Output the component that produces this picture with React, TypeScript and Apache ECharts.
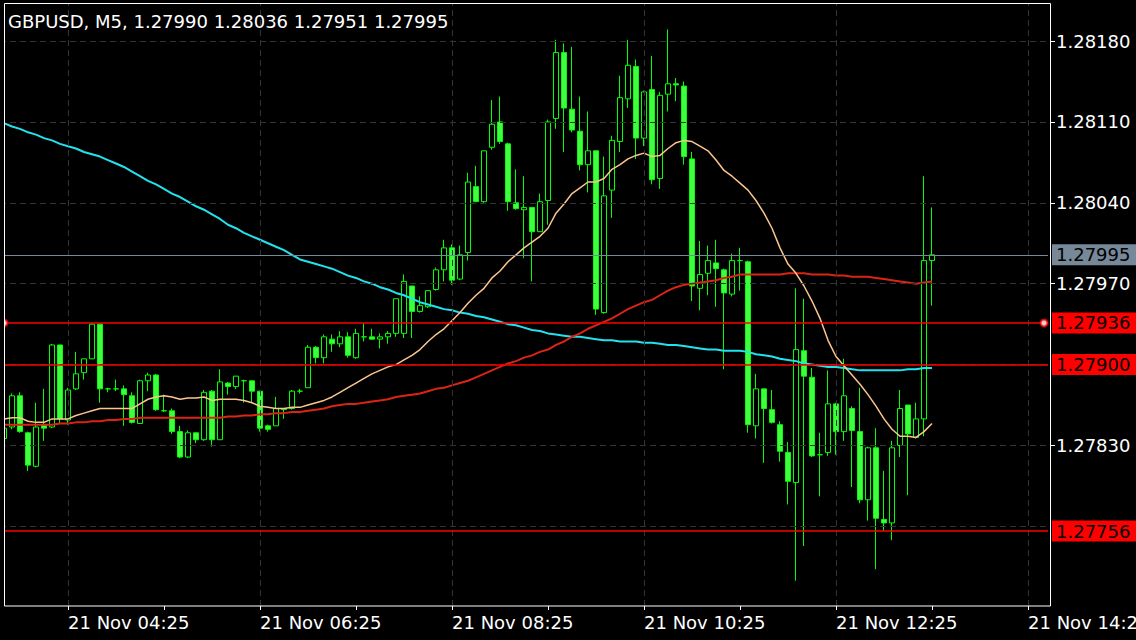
import React, { useEffect, useRef } from 'react';
import * as echarts from 'echarts';

const SYMBOL = 'GBPUSD';
const TIMEFRAME = 'M5';
const DAY = '21 Nov';
const FIRST_BAR = '03:45';
const BAR_MINUTES = 5;
const SLOT_COUNT = 131;
const FONT = '"DejaVu Sans", sans-serif';

const opens = [
  1.27836, 1.27846, 1.27873, 1.27841, 1.27812, 1.27848, 1.27846, 1.27917, 1.27852, 1.27879,
  1.27893, 1.27905, 1.27935, 1.27879, 1.27879, 1.27879, 1.27873, 1.27849, 1.27886, 1.27891,
  1.27860, 1.27860, 1.27842, 1.27820, 1.27841, 1.27835, 1.27877, 1.27835, 1.27884, 1.27881,
  1.27886, 1.27886, 1.27877, 1.27847, 1.27847, 1.27861, 1.27862, 1.27877, 1.27880, 1.27915,
  1.27906, 1.27922, 1.27918, 1.27924, 1.27906, 1.27924, 1.27924, 1.27922, 1.27924, 1.27927,
  1.27927, 1.27968, 1.27946, 1.27950, 1.27965, 1.27982, 1.28001, 1.27974, 1.27997, 1.28054,
  1.28041, 1.28088, 1.28110, 1.28091, 1.28040, 1.28034, 1.28036, 1.28015, 1.28042, 1.28113,
  1.28170, 1.28121, 1.28102, 1.28073, 1.28085, 1.27945, 1.28051, 1.28093, 1.28130, 1.28158,
  1.28096, 1.28138, 1.28061, 1.28134, 1.28143, 1.28141, 1.28078, 1.27966, 1.27979, 1.27988,
  1.27982, 1.27961, 1.27990, 1.27989, 1.27847, 1.27879, 1.27861, 1.27848, 1.27824, 1.27798,
  1.27912, 1.27889, 1.27822, 1.27824, 1.27866, 1.27842, 1.27862, 1.27842, 1.27783, 1.27828,
  1.27766, 1.27763, 1.27830, 1.27865, 1.27837, 1.27853, 1.27990,
];

const highs = [
  1.27847, 1.27875, 1.27876, 1.27842, 1.27867, 1.27879, 1.27918, 1.27917, 1.27880, 1.27911,
  1.27905, 1.27936, 1.27936, 1.27880, 1.27887, 1.27882, 1.27876, 1.27887, 1.27893, 1.27892,
  1.27874, 1.27862, 1.27847, 1.27843, 1.27841, 1.27878, 1.27878, 1.27896, 1.27885, 1.27890,
  1.27887, 1.27886, 1.27877, 1.27848, 1.27872, 1.27862, 1.27878, 1.27879, 1.27917, 1.27916,
  1.27926, 1.27926, 1.27929, 1.27928, 1.27931, 1.27936, 1.27931, 1.27927, 1.27929, 1.27957,
  1.27978, 1.27968, 1.27959, 1.27964, 1.27984, 1.28008, 1.28004, 1.28003, 1.28066, 1.28072,
  1.28085, 1.28129, 1.28132, 1.28092, 1.28069, 1.28063, 1.28036, 1.28048, 1.28112, 1.28181,
  1.28178, 1.28175, 1.28132, 1.28119, 1.28085, 1.28080, 1.28098, 1.28150, 1.28181, 1.28164,
  1.28137, 1.28167, 1.28136, 1.28190, 1.28148, 1.28145, 1.28084, 1.28007, 1.28003, 1.28008,
  1.27983, 1.27996, 1.28001, 1.27990, 1.27892, 1.27879, 1.27878, 1.27851, 1.27833, 1.27966,
  1.27957, 1.27897, 1.27841, 1.27895, 1.27867, 1.27905, 1.27864, 1.27880, 1.27829, 1.27845,
  1.27808, 1.27834, 1.27878, 1.27865, 1.27867, 1.28063, 1.28036,
];

const lows = [
  1.27835, 1.27844, 1.27841, 1.27808, 1.27811, 1.27834, 1.27845, 1.27849, 1.27848, 1.27878,
  1.27887, 1.27905, 1.27867, 1.27876, 1.27877, 1.27847, 1.27849, 1.27849, 1.27877, 1.27860,
  1.27859, 1.27840, 1.27819, 1.27819, 1.27832, 1.27834, 1.27829, 1.27835, 1.27874, 1.27879,
  1.27867, 1.27867, 1.27842, 1.27842, 1.27847, 1.27853, 1.27861, 1.27875, 1.27880, 1.27901,
  1.27901, 1.27911, 1.27915, 1.27906, 1.27905, 1.27920, 1.27922, 1.27914, 1.27918, 1.27924,
  1.27923, 1.27923, 1.27945, 1.27949, 1.27964, 1.27972, 1.27969, 1.27973, 1.27990, 1.28041,
  1.28040, 1.28086, 1.28091, 1.28033, 1.28034, 1.27992, 1.27972, 1.28015, 1.28021, 1.28104,
  1.28084, 1.28101, 1.28068, 1.28049, 1.27943, 1.27944, 1.28027, 1.28084, 1.28122, 1.28078,
  1.28089, 1.28056, 1.28052, 1.28119, 1.28128, 1.28073, 1.27955, 1.27947, 1.27960, 1.27950,
  1.27896, 1.27959, 1.27964, 1.27841, 1.27836, 1.27815, 1.27849, 1.27816, 1.27779, 1.27713,
  1.27743, 1.27820, 1.27786, 1.27821, 1.27822, 1.27834, 1.27794, 1.27780, 1.27765, 1.27723,
  1.27756, 1.27748, 1.27820, 1.27787, 1.27836, 1.27838, 1.27951,
];

const closes = [
  1.27845, 1.27873, 1.27842, 1.27813, 1.27846, 1.27845, 1.27917, 1.27853, 1.27878, 1.27892,
  1.27905, 1.27935, 1.27879, 1.27879, 1.27879, 1.27874, 1.27850, 1.27886, 1.27891, 1.27861,
  1.27860, 1.27842, 1.27820, 1.27841, 1.27835, 1.27876, 1.27835, 1.27885, 1.27881, 1.27890,
  1.27886, 1.27877, 1.27845, 1.27844, 1.27862, 1.27862, 1.27877, 1.27877, 1.27915, 1.27906,
  1.27924, 1.27918, 1.27924, 1.27908, 1.27927, 1.27924, 1.27922, 1.27924, 1.27927, 1.27957,
  1.27972, 1.27946, 1.27951, 1.27964, 1.27982, 1.28001, 1.27973, 1.27995, 1.28058, 1.28041,
  1.28085, 1.28108, 1.28093, 1.28041, 1.28035, 1.28036, 1.28015, 1.28041, 1.28110, 1.28170,
  1.28122, 1.28103, 1.28073, 1.28085, 1.27948, 1.28046, 1.28094, 1.28131, 1.28159, 1.28096,
  1.28136, 1.28060, 1.28133, 1.28143, 1.28142, 1.28080, 1.27968, 1.27978, 1.27990, 1.27983,
  1.27962, 1.27990, 1.27990, 1.27848, 1.27879, 1.27862, 1.27850, 1.27825, 1.27799, 1.27913,
  1.27890, 1.27821, 1.27822, 1.27866, 1.27842, 1.27873, 1.27843, 1.27783, 1.27828, 1.27767,
  1.27763, 1.27828, 1.27862, 1.27840, 1.27853, 1.27990, 1.27995,
];

// slow moving average (cyan)
const maSlow = [
  1.28109, 1.28106, 1.28104, 1.28101, 1.28099, 1.28096, 1.28094, 1.28091, 1.28089, 1.28087,
  1.28084, 1.28082, 1.28080, 1.28077, 1.28074, 1.28071, 1.28067, 1.28063, 1.28059, 1.28056,
  1.28052, 1.28048, 1.28045, 1.28041, 1.28037, 1.28034, 1.28030, 1.28026, 1.28021, 1.28018,
  1.28014, 1.28011, 1.28008, 1.28005, 1.28002, 1.27999, 1.27995, 1.27991, 1.27989, 1.27987,
  1.27985, 1.27983, 1.27980, 1.27977, 1.27975, 1.27972, 1.27970, 1.27967, 1.27965, 1.27962,
  1.27960, 1.27957, 1.27954, 1.27952, 1.27950, 1.27948, 1.27947, 1.27945, 1.27944, 1.27942,
  1.27941, 1.27939, 1.27937, 1.27935, 1.27934, 1.27932, 1.27930, 1.27929, 1.27927, 1.27926,
  1.27925, 1.27924, 1.27924, 1.27923, 1.27922, 1.27921, 1.27921, 1.27920, 1.27920, 1.27920,
  1.27919, 1.27919, 1.27918, 1.27917, 1.27917, 1.27916, 1.27915, 1.27914, 1.27913, 1.27913,
  1.27912, 1.27912, 1.27912, 1.27911, 1.27909, 1.27908, 1.27907, 1.27905, 1.27904, 1.27903,
  1.27901, 1.27900, 1.27899, 1.27898, 1.27898, 1.27897, 1.27896, 1.27895, 1.27895, 1.27895,
  1.27895, 1.27895, 1.27895, 1.27896, 1.27896, 1.27897, 1.27897,
];

// middle moving average (red)
const maMid = [
  1.27848, 1.27848, 1.27848, 1.27848, 1.27848, 1.27848, 1.27848, 1.27849, 1.27849, 1.27850,
  1.27850, 1.27851, 1.27851, 1.27852, 1.27852, 1.27853, 1.27853, 1.27854, 1.27854, 1.27854,
  1.27854, 1.27854, 1.27854, 1.27854, 1.27854, 1.27854, 1.27854, 1.27854, 1.27855, 1.27855,
  1.27856, 1.27856, 1.27857, 1.27857, 1.27858, 1.27858, 1.27859, 1.27859, 1.27860, 1.27861,
  1.27862, 1.27864, 1.27865, 1.27866, 1.27866, 1.27867, 1.27868, 1.27869, 1.27870, 1.27872,
  1.27873, 1.27874, 1.27875, 1.27877, 1.27879, 1.27880, 1.27882, 1.27884, 1.27886, 1.27889,
  1.27892, 1.27895, 1.27898, 1.27901, 1.27903, 1.27906, 1.27908, 1.27911, 1.27913, 1.27917,
  1.27920, 1.27924, 1.27927, 1.27931, 1.27934, 1.27937, 1.27940, 1.27944, 1.27948, 1.27951,
  1.27954, 1.27956, 1.27960, 1.27964, 1.27967, 1.27969, 1.27970, 1.27971, 1.27972, 1.27973,
  1.27975, 1.27976, 1.27978, 1.27978, 1.27978, 1.27978, 1.27978, 1.27978, 1.27979, 1.27979,
  1.27979, 1.27978, 1.27978, 1.27978, 1.27977, 1.27977, 1.27976, 1.27976, 1.27976, 1.27975,
  1.27974, 1.27973, 1.27972, 1.27971, 1.27970, 1.27971, 1.27972,
];

// fast moving average (light orange)
const maFast = [
  1.27853, 1.27854, 1.27854, 1.27851, 1.27850, 1.27850, 1.27853, 1.27853, 1.27853, 1.27856,
  1.27858, 1.27860, 1.27862, 1.27862, 1.27862, 1.27862, 1.27862, 1.27866, 1.27870, 1.27872,
  1.27873, 1.27872, 1.27870, 1.27871, 1.27871, 1.27872, 1.27869, 1.27870, 1.27870, 1.27870,
  1.27869, 1.27867, 1.27864, 1.27863, 1.27862, 1.27862, 1.27863, 1.27863, 1.27865, 1.27867,
  1.27869, 1.27872, 1.27876, 1.27880, 1.27884, 1.27888, 1.27892, 1.27895, 1.27898, 1.27900,
  1.27904, 1.27908, 1.27913, 1.27920, 1.27926, 1.27931, 1.27938, 1.27945, 1.27953, 1.27960,
  1.27966, 1.27975, 1.27981, 1.27989, 1.27995, 1.28001, 1.28006, 1.28011, 1.28018, 1.28031,
  1.28039, 1.28048, 1.28053, 1.28058, 1.28058, 1.28061, 1.28069, 1.28073, 1.28078, 1.28081,
  1.28083, 1.28080, 1.28081, 1.28087, 1.28092, 1.28094, 1.28093, 1.28089, 1.28085, 1.28077,
  1.28068, 1.28063, 1.28057, 1.28051, 1.28042, 1.28031, 1.28018, 1.28001, 1.27987, 1.27979,
  1.27968, 1.27955, 1.27940, 1.27921, 1.27907, 1.27899, 1.27891, 1.27883, 1.27874, 1.27864,
  1.27853, 1.27844, 1.27838, 1.27838, 1.27837, 1.27842, 1.27849,
];

const xTickLabels = ['21 Nov 04:25', '21 Nov 06:25', '21 Nov 08:25', '21 Nov 10:25', '21 Nov 12:25', '21 Nov 14:25'];
const yGridValues = [1.2818, 1.2811, 1.2804, 1.2797, 1.279, 1.2783, 1.2776];
const yLabelValues = [1.2818, 1.2811, 1.2804, 1.2797, 1.2783];
const levelLines = [1.27936, 1.279, 1.27756];
const selectedLevel = 1.27936;
const bidPrice = 1.27995;
const yMin = 1.276911;
const yMax = 1.282129;

function buildCategories(): string[] {
  const [h, m] = FIRST_BAR.split(':').map(Number);
  const out: string[] = [];
  for (let i = 0; i < SLOT_COUNT; i++) {
    const t = h * 60 + m + i * BAR_MINUTES;
    const hh = String(Math.floor(t / 60)).padStart(2, '0');
    const mm = String(t % 60).padStart(2, '0');
    out.push(`${DAY} ${hh}:${mm}`);
  }
  return out;
}

export default function App() {
  const ref = useRef<HTMLDivElement>(null);

  useEffect(() => {
    document.body.style.margin = '0';
    document.body.style.background = '#000';
    if (!ref.current) return;
    const chart = echarts.init(ref.current, null, { renderer: 'svg' });
    const categories = buildCategories();
    const candles = opens.map((o, i) => [o, closes[i], lows[i], highs[i]]);
    const last = opens.length - 1;
    const header = `${SYMBOL}, ${TIMEFRAME}, ${opens[last].toFixed(5)} ${highs[last].toFixed(5)} ${lows[last].toFixed(5)} ${closes[last].toFixed(5)}`;
    const empty = categories.map(() => null);

    const boxLabel = (bg: string) => ({
      show: true,
      position: 'end',
      distance: 4,
      formatter: (p: any) => Number(p.value).toFixed(5),
      backgroundColor: bg,
      color: '#000000',
      fontFamily: FONT,
      fontSize: 18,
      padding: [2, 12, 1, 4],
    });

    const option: any = {
      animation: false,
      backgroundColor: '#000000',
      grid: { left: 0, top: 3, width: 1048, height: 603, containLabel: false, outerBoundsMode: 'none' },
      xAxis: {
        type: 'category',
        data: categories,
        boundaryGap: true,
        axisLine: { show: false },
        axisTick: {
          show: true,
          alignWithLabel: true,
          interval: (_i: number, v: string) => v.endsWith(':25'),
          length: 4,
          lineStyle: { color: '#ffffff', width: 1 },
        },
        axisLabel: {
          interval: (_i: number, v: string) => xTickLabels.includes(v),
          align: 'left',
          color: '#ffffff',
          fontFamily: FONT,
          fontSize: 18,
          margin: 7,
          hideOverlap: false,
        },
        splitLine: { show: false },
      },
      yAxis: {
        type: 'value',
        position: 'right',
        offset: 2,
        min: yMin,
        max: yMax,
        axisLine: { show: false },
        axisTick: { show: true, customValues: yLabelValues, length: 5, lineStyle: { color: '#ffffff', width: 1 } },
        axisLabel: {
          customValues: yLabelValues,
          formatter: (v: number) => v.toFixed(5),
          color: '#ffffff',
          fontFamily: FONT,
          fontSize: 18,
          margin: 6,
        },
        splitLine: { show: false },
      },
      graphic: [
        { type: 'rect', z: 99, silent: true, shape: { x: 0, y: 0, width: 4, height: 606 }, style: { fill: '#000000' } },
        {
          type: 'rect', z: 100, silent: true,
          shape: { x: 4.5, y: 3.5, width: 1046, height: 602.5 },
          style: { fill: 'none', stroke: '#ffffff', lineWidth: 1 },
        },
        {
          type: 'text', z: 101, silent: true, x: 8, y: 12,
          style: { text: header, fill: '#ffffff', font: `18px ${FONT}`, textVerticalAlign: 'top' },
        },
      ],
      series: [
        {
          name: 'grid',
          type: 'line',
          data: empty,
          silent: true,
          z: 0,
          markLine: {
            silent: true,
            symbol: 'none',
            animation: false,
            precision: 6,
            label: { show: false },
            lineStyle: { color: '#333333', type: [6, 4], width: 1 },
            data: [
              ...yGridValues.map((v) => ({ yAxis: v })),
              ...xTickLabels.map((l) => ({ xAxis: categories.indexOf(l) })),
            ],
          },
        },
        {
          name: SYMBOL,
          type: 'candlestick',
          data: candles,
          barWidth: 5,
          z: 2,
          itemStyle: {
            color: '#000000',
            color0: '#3dff3d',
            borderColor: '#00ff00',
            borderColor0: '#00ff00',
            borderWidth: 1,
          },
        },
        {
          name: 'MA slow', type: 'line', data: maSlow, showSymbol: false, z: 3, silent: true,
          lineStyle: { color: '#22e2ee', width: 2 },
        },
        {
          name: 'MA mid', type: 'line', data: maMid, showSymbol: false, z: 3, silent: true,
          lineStyle: { color: '#dc2416', width: 2 },
        },
        {
          name: 'MA fast', type: 'line', data: maFast, showSymbol: false, z: 3, silent: true,
          lineStyle: { color: '#fdc58e', width: 1.5 },
        },
        {
          name: 'levels',
          type: 'line',
          data: empty,
          silent: true,
          z: 5,
          markLine: {
            silent: true,
            symbol: 'none',
            animation: false,
            precision: 6,
            data: [
              ...levelLines.map((v) => ({
                yAxis: v,
                lineStyle: { color: '#ff0000', width: 1.5, type: 'solid' },
                label: boxLabel('#ff0000'),
              })),
              {
                yAxis: bidPrice,
                lineStyle: { color: '#778899', width: 1, type: 'solid' },
                label: boxLabel('#778899'),
              },
            ],
          },
        },
        {
          name: 'handles',
          type: 'scatter',
          data: [[0, selectedLevel], [SLOT_COUNT - 1, selectedLevel]],
          symbol: 'circle',
          symbolSize: 7,
          z: 6,
          silent: true,
          itemStyle: { color: '#ffffff', borderColor: '#ff0000', borderWidth: 2 },
        },
      ],
    };

    chart.setOption(option);
    return () => chart.dispose();
  }, []);

  return (
    <div style={{ position: 'fixed', left: 0, top: 0, width: 1136, height: 640, background: '#000' }}>
      <div ref={ref} style={{ width: 1136, height: 640 }} />
    </div>
  );
}
